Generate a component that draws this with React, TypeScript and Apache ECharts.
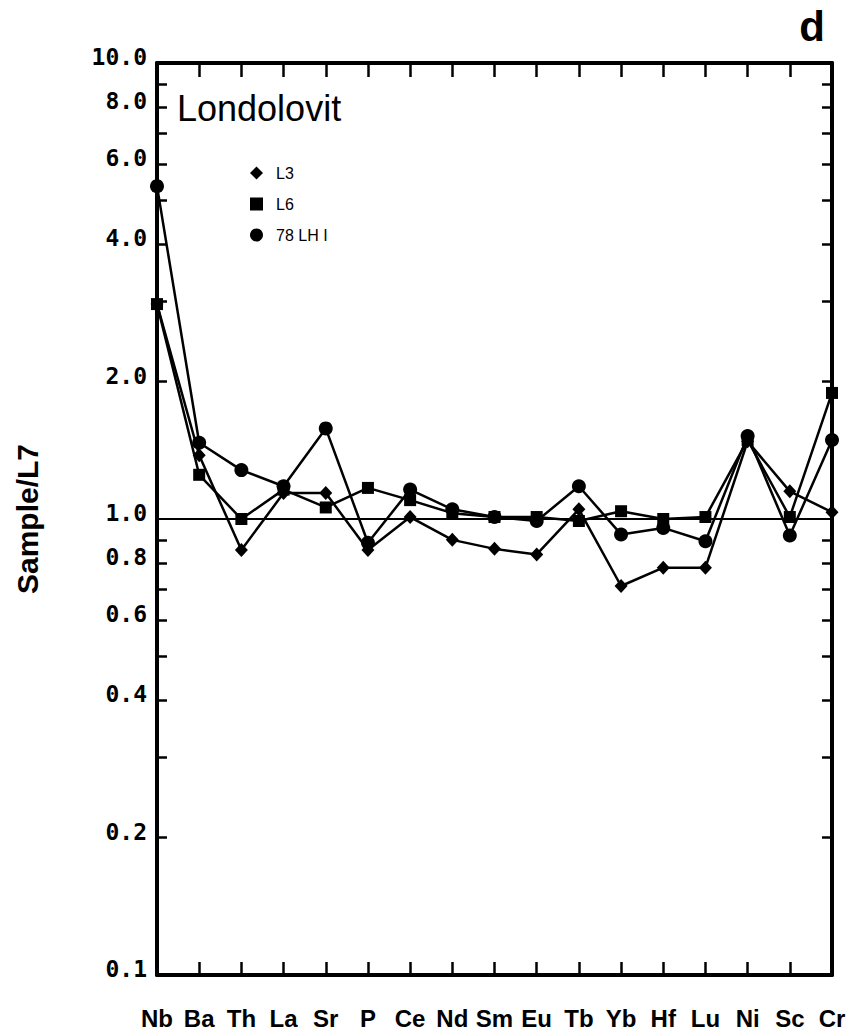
import React, { useEffect, useRef } from "react";
import * as echarts from "echarts";

const categories = ["Nb", "Ba", "Th", "La", "Sr", "P", "Ce", "Nd", "Sm", "Eu", "Tb", "Yb", "Hf", "Lu", "Ni", "Sc", "Cr"];
const seriesL3 = [2.96, 1.38, 0.855, 1.14, 1.14, 0.855, 1.01, 0.9, 0.86, 0.836, 1.05, 0.713, 0.782, 0.782, 1.48, 1.15, 1.035];
const seriesL6 = [2.96, 1.25, 1.0, 1.16, 1.06, 1.17, 1.1, 1.03, 1.01, 1.01, 0.99, 1.04, 1.0, 1.01, 1.49, 1.01, 1.89];
const series78LH1 = [5.37, 1.47, 1.28, 1.18, 1.58, 0.887, 1.16, 1.05, 1.01, 0.99, 1.18, 0.925, 0.956, 0.894, 1.52, 0.92, 1.49];
const yLabelValues = [0.1, 0.2, 0.4, 0.6, 0.8, 1, 2, 4, 6, 8, 10];
const yTickValues = [0.2, 0.3, 0.4, 0.5, 0.6, 0.7, 0.8, 0.9, 2, 3, 4, 5, 6, 7, 8, 9];
const seriesNames = ["L3", "L6", "78 LH I"];

export default function App() {
  const ref = useRef<HTMLDivElement>(null);
  useEffect(() => {
    if (!ref.current) return;
    const chart = echarts.init(ref.current, null, { renderer: "svg" });
    const axisLine = { show: true, onZero: false, lineStyle: { color: "#000", width: 4 } };
    const lineCommon = {
      type: "line",
      clip: false,
      color: "#000",
      lineStyle: { color: "#000", width: 2.5 },
      itemStyle: { color: "#000" },
    };
    chart.setOption({
      animation: false,
      backgroundColor: "#fff",
      grid: { left: 157, right: 26, top: 63, bottom: 61, containLabel: false },
      legend: {
        orient: "vertical",
        left: 250,
        top: 165,
        padding: 0,
        itemWidth: 13,
        itemHeight: 13,
        itemGap: 15,
        selectedMode: false,
        textStyle: { color: "#000", fontSize: 16, fontFamily: "Liberation Sans", lineHeight: 13, padding: [0, 0, 0, 8] },
        data: [
          { name: seriesNames[0], icon: "diamond" },
          { name: seriesNames[1], icon: "rect" },
          { name: seriesNames[2], icon: "circle" },
        ],
      },
      graphic: [
        {
          type: "text",
          x: 177,
          y: 108,
          style: { text: "Londolovit", fill: "#000", fontSize: 36, fontFamily: "Liberation Sans", verticalAlign: "middle" },
        },
        {
          type: "text",
          x: 812,
          y: 26,
          style: { text: "d", fill: "#000", fontSize: 42, fontWeight: "bold", fontFamily: "Liberation Sans", align: "center", verticalAlign: "middle" },
        },
      ],
      xAxis: [
        {
          type: "category",
          data: categories,
          boundaryGap: false,
          position: "bottom",
          axisLine,
          axisTick: { show: true, inside: true, length: 13, lineStyle: { color: "#000", width: 2.5 } },
          axisLabel: {
            interval: 0,
            margin: 31,
            color: "#000",
            fontSize: 24,
            fontWeight: "bold",
            fontFamily: "Liberation Sans",
          },
          splitLine: { show: false },
        },
        {
          type: "category",
          data: categories,
          boundaryGap: false,
          position: "top",
          axisLine,
          axisTick: { show: true, inside: true, length: 14, lineStyle: { color: "#000", width: 2.5 } },
          axisLabel: { show: false },
          splitLine: { show: false },
        },
      ],
      yAxis: [
        {
          type: "log",
          logBase: 10,
          min: 0.1,
          max: 10,
          position: "left",
          name: "Sample/L7",
          nameLocation: "middle",
          nameGap: 115,
          nameTextStyle: { color: "#000", fontSize: 30, fontWeight: "bold", fontFamily: "Liberation Sans" },
          axisLine,
          axisTick: { show: true, inside: true, length: 10, customValues: yTickValues, lineStyle: { color: "#000", width: 2.5 } },
          axisLabel: {
            customValues: yLabelValues,
            formatter: (v: number) => v.toFixed(1),
            margin: 10,
            color: "#000",
            fontSize: 23,
            fontWeight: "bold",
            fontFamily: "DejaVu Sans Mono",
            verticalAlign: "bottom",
            lineHeight: 12,
          },
          splitLine: { show: false },
        },
        {
          type: "log",
          logBase: 10,
          min: 0.1,
          max: 10,
          position: "right",
          axisLine,
          axisTick: { show: true, inside: true, length: 10, customValues: yTickValues, lineStyle: { color: "#000", width: 2.5 } },
          axisLabel: { show: false },
          splitLine: { show: false },
        },
      ],
      series: [
        {
          ...lineCommon,
          name: seriesNames[0],
          data: seriesL3,
          symbol: "diamond",
          symbolSize: [13, 14],
          z: 3,
          markLine: {
            silent: true,
            symbol: ["none", "none"],
            label: { show: false },
            lineStyle: { color: "#000", width: 2, type: "solid" },
            data: [{ yAxis: 1 }],
          },
        },
        {
          ...lineCommon,
          name: seriesNames[1],
          data: seriesL6,
          symbol: "rect",
          symbolSize: 12,
          z: 4,
        },
        {
          ...lineCommon,
          name: seriesNames[2],
          data: series78LH1,
          symbol: "circle",
          symbolSize: 14,
          z: 5,
        },
      ],
    });
    return () => chart.dispose();
  }, []);
  return <div ref={ref} style={{ position: "fixed", left: 0, top: 0, width: 858, height: 1036 }} />;
}
